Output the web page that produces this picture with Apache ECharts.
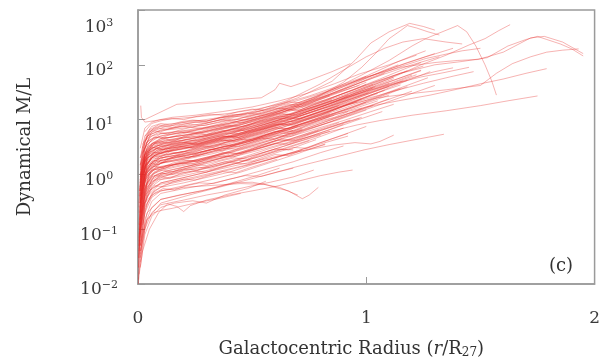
<!DOCTYPE html>
<html>
<head>
<meta charset="utf-8">
<script src="https://cdn.jsdelivr.net/npm/echarts@6/dist/echarts.min.js"></script>
<style>
  html, body { margin: 0; padding: 0; background: #fff; }
  #chart { width: 603px; height: 364px; }
</style>
</head>
<body>
<div id="chart"></div>
<script>
// axis ticks
const xTicks = [0, 1, 2];
const yTicks = [0.01, 0.1, 1, 10, 100, 1000];
const yTickLabels = ["\u22122", "\u22121", "0", "1", "2", "3"];

// rotation-curve derived M/L, one [r/R27, M/L] list per galaxy
const coreCurves = [
  [[0.01,0.12],[0.03,0.42],[0.06,0.8],[0.1,1.0],[0.18,1.2],[0.27,1.5],[0.38,2.1],[0.5,2.9],[0.62,4.4],[0.75,6.8],[0.88,10],[1.0,15]],
  [[0.01,0.3],[0.025,0.9],[0.05,1.5],[0.1,2.0],[0.2,2.4],[0.3,3.1],[0.42,4.0],[0.55,5.5],[0.68,8.5],[0.8,12],[0.92,19],[1.05,30]],
  [[0.01,0.05],[0.03,0.2],[0.06,0.38],[0.1,0.5],[0.2,0.62],[0.32,0.8],[0.45,1.1],[0.57,1.6],[0.7,2.4],[0.82,3.6]],
  [[0.005,0.4],[0.02,1.4],[0.05,2.5],[0.1,3.2],[0.2,3.8],[0.3,4.9],[0.4,6.0],[0.52,8],[0.63,11],[0.75,16],[0.86,23],[1.0,38],[1.12,60]],
  [[0.01,0.15],[0.03,0.6],[0.07,1.1],[0.12,1.4],[0.22,1.7],[0.35,2.3],[0.48,3.3],[0.6,4.6],[0.72,6.5]],
  [[0.01,0.9],[0.03,2.4],[0.07,3.5],[0.12,4.2],[0.2,4.8],[0.3,5.8],[0.42,7.6],[0.55,10],[0.66,14],[0.78,20],[0.9,30],[1.02,46],[1.15,70],[1.25,95]],
  [[0.01,0.06],[0.03,0.3],[0.06,0.55],[0.1,0.7],[0.19,0.85],[0.3,1.1],[0.41,1.5],[0.53,2.1],[0.66,3.2],[0.78,4.6],[0.9,7]],
  [[0.008,0.5],[0.025,1.3],[0.06,2.1],[0.1,2.5],[0.17,2.8],[0.28,3.6],[0.4,4.8],[0.5,6.2],[0.61,8.3],[0.72,12],[0.84,18],[0.95,27],[1.08,42],[1.2,65]],
  [[0.01,0.25],[0.03,0.9],[0.06,1.4],[0.1,1.8],[0.2,2.1],[0.31,2.8],[0.44,3.6],[0.56,5.2],[0.68,7.3],[0.8,11],[0.93,16],[1.06,26],[1.18,40]],
  [[0.01,0.03],[0.03,0.12],[0.06,0.25],[0.1,0.35],[0.18,0.42],[0.28,0.5],[0.4,0.68],[0.52,0.95],[0.62,1.3]],
  [[0.01,0.1],[0.03,0.5],[0.07,0.9],[0.11,1.1],[0.2,1.35],[0.3,1.7],[0.43,2.3],[0.55,3.2],[0.66,4.3],[0.77,6.2],[0.88,8.8]],
  [[0.01,0.35],[0.04,1.5],[0.08,2.0],[0.13,2.3],[0.23,2.8],[0.35,3.8],[0.47,5.0],[0.58,7],[0.7,10],[0.82,15],[0.95,24],[1.1,40]],
  [[0.01,0.02],[0.03,0.08],[0.06,0.17],[0.1,0.25],[0.16,0.3],[0.24,0.33],[0.3,0.3],[0.38,0.42],[0.48,0.55],[0.56,0.75]],
  [[0.01,0.7],[0.03,2.2],[0.06,3.0],[0.11,3.6],[0.2,4.2],[0.32,5.4],[0.44,7.2],[0.56,10],[0.67,13],[0.78,19],[0.9,28],[1.03,44]],
  [[0.005,0.05],[0.02,0.4],[0.05,1.1],[0.1,1.6],[0.2,1.9],[0.33,2.6],[0.46,3.7],[0.6,5.5],[0.74,8.2],[0.86,12]],
  [[0.01,0.04],[0.03,0.25],[0.07,0.5],[0.12,0.65],[0.22,0.8],[0.34,1.05],[0.46,1.4],[0.58,1.9],[0.7,2.7],[0.8,3.6],[0.92,5]],
  [[0.01,0.6],[0.03,1.8],[0.07,2.5],[0.12,2.9],[0.22,3.4],[0.34,4.3],[0.46,5.6],[0.58,8],[0.7,11.5],[0.83,17],[0.96,27],[1.1,44],[1.22,66]],
  [[0.01,0.2],[0.03,0.7],[0.06,1.0],[0.1,1.25],[0.19,1.5],[0.29,1.9],[0.4,2.5],[0.52,3.5],[0.64,5],[0.76,7.5],[0.88,11],[1.0,17],[1.1,24]],
  [[0.01,0.09],[0.03,0.4],[0.07,0.75],[0.12,0.95],[0.24,1.15],[0.36,1.5],[0.49,2.1],[0.61,3],[0.72,4.2],[0.84,6.1]],
  [[0.01,0.4],[0.03,1.2],[0.06,1.7],[0.1,2],[0.2,2.3],[0.3,2.7],[0.4,3.4],[0.5,4.4],[0.6,5.8],[0.7,8],[0.8,11],[0.9,15],[1.0,21]],
  [[0.01,0.8],[0.03,2.5],[0.06,3.7],[0.1,4.5],[0.2,5.2],[0.31,6.4],[0.43,8.2],[0.55,11],[0.66,15],[0.77,21],[0.88,31],[1.0,48]],
  [[0.01,0.07],[0.03,0.35],[0.06,0.7],[0.1,0.95],[0.2,1.15],[0.32,1.45],[0.45,2.0],[0.57,2.9],[0.7,4.2],[0.83,6.3],[0.95,9.5],[1.07,14]],
  [[0.01,0.45],[0.03,1.4],[0.07,2.2],[0.12,2.6],[0.24,3.2],[0.37,4.2],[0.5,5.8],[0.62,8],[0.75,12],[0.88,18]],
  [[0.01,0.035],[0.03,0.15],[0.06,0.32],[0.1,0.45],[0.2,0.55],[0.3,0.65],[0.42,0.85],[0.55,1.2],[0.68,1.7],[0.8,2.5],[0.9,3.3]],
  [[0.01,0.3],[0.03,0.95],[0.06,1.35],[0.1,1.6],[0.21,1.9],[0.33,2.4],[0.45,3.3],[0.58,4.7],[0.7,6.6],[0.82,9.6],[0.95,14],[1.08,22],[1.2,33]],
  [[0.01,0.6],[0.03,2],[0.06,3],[0.1,3.5],[0.2,3.9],[0.3,4.6],[0.41,5.8],[0.52,7.6],[0.64,10.5],[0.76,15],[0.88,22],[1.0,34],[1.12,52],[1.24,80]],
  [[0.01,0.08],[0.03,0.3],[0.06,0.6],[0.1,0.8],[0.2,0.95],[0.31,1.2],[0.42,1.55],[0.53,2.1],[0.64,2.9],[0.75,4.1]],
  [[0.01,0.5],[0.03,1.5],[0.06,2],[0.1,2.25],[0.2,2.6],[0.3,3.2],[0.42,4.2],[0.55,5.7],[0.67,8],[0.79,11.5],[0.9,16],[1.03,25],[1.15,38],[1.27,58]],
  [[0.01,0.025],[0.03,0.1],[0.06,0.2],[0.1,0.28],[0.2,0.34],[0.3,0.42],[0.4,0.5],[0.5,0.62],[0.58,0.72],[0.68,0.9],[0.77,1.2]],
  [[0.01,0.2],[0.03,0.8],[0.07,1.2],[0.12,1.45],[0.23,1.75],[0.35,2.3],[0.47,3.1],[0.6,4.4],[0.72,6.3],[0.84,9],[0.96,13.5],[1.08,20],[1.2,30],[1.3,42]],
  [[0.01,0.55],[0.03,1.9],[0.06,2.8],[0.1,3.2],[0.2,3.6],[0.3,4.4],[0.4,5.5],[0.5,7],[0.6,9.3],[0.7,12.5],[0.8,17],[0.9,24],[1.0,33],[1.1,46]],
  [[0.01,0.05],[0.03,0.22],[0.06,0.45],[0.1,0.58],[0.2,0.7],[0.3,0.88],[0.4,1.1],[0.5,1.5],[0.6,2.0],[0.7,2.7],[0.8,3.8],[0.9,5.3],[1.0,7.5]],
  [[0.004,0.05],[0.01,0.25],[0.02,0.7],[0.04,1.3],[0.08,1.7],[0.14,2],[0.25,2.4],[0.37,3.1],[0.49,4.1],[0.6,5.6],[0.7,7.6]],
  [[0.005,0.1],[0.012,0.45],[0.03,1.3],[0.06,2.0],[0.11,2.5],[0.2,2.9],[0.3,3.5],[0.41,4.4],[0.53,5.9],[0.65,8.1],[0.76,11],[0.86,15],[0.96,21]],
  [[0.006,0.08],[0.015,0.3],[0.035,0.9],[0.07,1.4],[0.12,1.7],[0.22,2.05],[0.34,2.6],[0.46,3.5],[0.58,4.9],[0.68,6.4]],
  [[0.005,0.2],[0.015,0.8],[0.04,1.9],[0.08,2.7],[0.14,3.1],[0.24,3.7],[0.36,4.7],[0.48,6.2],[0.6,8.6],[0.72,12],[0.84,17.5],[0.96,26],[1.08,38],[1.18,52]],
  [[0.003,0.03],[0.01,0.15],[0.025,0.5],[0.05,0.9],[0.09,1.15],[0.16,1.35],[0.26,1.65],[0.38,2.1],[0.5,2.8],[0.62,3.9],[0.74,5.5],[0.86,7.8],[0.98,11]],
  [[0.004,0.06],[0.012,0.35],[0.03,1.0],[0.06,1.6],[0.1,2.0],[0.18,2.3],[0.27,2.75],[0.37,3.4],[0.47,4.3],[0.57,5.5],[0.67,7.2],[0.77,9.6],[0.88,13.5],[1.0,20],[1.1,28]],
  [[0.005,0.3],[0.015,1.2],[0.035,2.6],[0.07,3.6],[0.12,4.1],[0.22,4.7],[0.33,5.7],[0.45,7.3],[0.57,9.7],[0.69,13.5],[0.8,19],[0.92,28]],
  [[0.004,0.04],[0.01,0.12],[0.025,0.35],[0.05,0.6],[0.09,0.8],[0.17,0.95],[0.27,1.2],[0.38,1.6],[0.5,2.2],[0.6,2.9],[0.7,3.9],[0.8,5.2]],
  [[0.006,0.15],[0.015,0.6],[0.035,1.5],[0.07,2.2],[0.12,2.6],[0.21,3.0],[0.31,3.8],[0.43,5.0],[0.55,6.8],[0.67,9.5],[0.79,13.5],[0.91,19.5],[1.03,29],[1.15,43]],
  [[0.003,0.02],[0.008,0.08],[0.02,0.3],[0.04,0.65],[0.08,1.0],[0.14,1.2],[0.23,1.45],[0.34,1.85],[0.45,2.4],[0.56,3.2],[0.66,4.2],[0.77,5.8],[0.87,7.8],[0.97,10.5]],
  [[0.005,0.12],[0.015,0.5],[0.035,1.1],[0.07,1.5],[0.13,1.75],[0.23,2.1],[0.35,2.8],[0.47,3.8],[0.59,5.3],[0.71,7.6],[0.83,11],[0.95,16],[1.05,22]],
  [[0.004,0.25],[0.012,1.0],[0.03,2.3],[0.06,3.2],[0.1,3.7],[0.19,4.2],[0.3,5.1],[0.42,6.6],[0.54,8.8],[0.66,12.2],[0.78,17.5],[0.9,25.5],[1.02,38],[1.14,56],[1.24,78]],
  [[0.005,0.07],[0.012,0.3],[0.03,0.75],[0.06,1.15],[0.1,1.35],[0.2,1.6],[0.3,2.0],[0.42,2.6],[0.54,3.5],[0.66,4.8],[0.78,6.8],[0.9,9.6],[1.02,14],[1.12,19]],
  [[0.006,0.5],[0.015,1.6],[0.035,3.3],[0.07,4.6],[0.12,5.3],[0.22,6.0],[0.34,7.3],[0.46,9.2],[0.58,12],[0.7,16.5],[0.82,23],[0.94,34],[1.06,52],[1.18,78]],
  [[0.004,0.03],[0.01,0.1],[0.025,0.28],[0.05,0.5],[0.09,0.65],[0.16,0.75],[0.25,0.9],[0.36,1.15],[0.48,1.5],[0.6,2.0],[0.72,2.7],[0.82,3.5]]
];

// noisier curves, sampled more finely
const wigglyCurves = [
  [[0.02,0.6],[0.04,1.5],[0.07,2.2],[0.1,2.1],[0.14,2.6],[0.18,2.4],[0.23,2.9],[0.28,3.3],[0.33,3.1],[0.38,3.8],[0.44,4.4],[0.5,4.2],[0.56,5.3],[0.62,6.4],[0.68,6.1],[0.74,7.8],[0.8,9.5],[0.86,11],[0.92,14]],
  [[0.015,0.4],[0.03,1.1],[0.06,1.6],[0.09,1.5],[0.13,1.9],[0.17,2.2],[0.22,2.0],[0.27,2.5],[0.32,2.9],[0.37,2.7],[0.42,3.4],[0.48,3.9],[0.54,4.6],[0.6,4.4],[0.66,5.6],[0.72,6.8]],
  [[0.02,1.2],[0.04,2.8],[0.08,3.9],[0.12,4.4],[0.16,4.1],[0.2,4.9],[0.25,5.6],[0.3,5.3],[0.35,6.4],[0.4,7.1],[0.45,6.8],[0.5,8.3],[0.56,9.6],[0.62,11.5],[0.68,11],[0.74,14],[0.8,17],[0.86,21],[0.92,26],[0.98,33],[1.04,40]],
  [[0.02,0.25],[0.04,0.7],[0.07,1.05],[0.11,1.2],[0.15,1.1],[0.2,1.35],[0.25,1.5],[0.3,1.45],[0.36,1.75],[0.42,2.0],[0.48,1.9],[0.54,2.4],[0.6,2.9],[0.66,2.8],[0.72,3.5],[0.78,4.3]],
  [[0.03,5],[0.06,7.5],[0.1,8.5],[0.14,8],[0.19,9.2],[0.24,9.8],[0.3,9.4],[0.36,10.8],[0.42,11.5],[0.48,13],[0.54,12.5],[0.6,15],[0.66,18],[0.72,17],[0.78,22],[0.84,27]],
  [[0.03,6],[0.06,8.5],[0.1,9.5],[0.15,10.5],[0.2,10],[0.26,11.5],[0.32,12.5],[0.38,12],[0.44,14],[0.5,15.5],[0.55,15]],
  [[0.02,3],[0.05,6],[0.09,7],[0.13,6.6],[0.18,7.4],[0.23,8.2],[0.29,7.8],[0.35,9],[0.41,10.2],[0.47,9.8],[0.53,11.5],[0.59,13],[0.65,15.5],[0.71,15],[0.77,19],[0.83,23],[0.89,29],[0.95,36],[1.0,44]],
  [[0.015,0.9],[0.03,2.2],[0.06,3.1],[0.1,3.0],[0.14,3.5],[0.19,3.9],[0.24,3.7],[0.3,4.4],[0.36,5.0],[0.42,4.8],[0.48,5.9],[0.54,6.8],[0.6,8.2],[0.66,7.9],[0.72,9.8],[0.78,12],[0.84,14.5],[0.9,18],[0.96,22],[1.02,28],[1.08,34]],
  [[0.02,0.35],[0.05,1.0],[0.08,1.35],[0.12,1.3],[0.17,1.6],[0.22,1.8],[0.27,1.7],[0.33,2.1],[0.39,2.5],[0.45,2.4],[0.51,3.0],[0.57,3.6],[0.63,4.4],[0.69,4.2],[0.75,5.3],[0.81,6.5],[0.87,8],[0.93,9.8]],
  [[0.01,0.15],[0.03,0.45],[0.06,0.75],[0.1,0.9],[0.14,0.85],[0.19,1.05],[0.24,1.15],[0.3,1.1],[0.36,1.35],[0.42,1.6],[0.48,1.55],[0.54,1.9],[0.6,2.3],[0.66,2.2],[0.72,2.8]],
  [[0.02,1.8],[0.05,3.8],[0.09,4.8],[0.13,4.6],[0.18,5.3],[0.23,6],[0.28,5.8],[0.34,6.8],[0.4,7.8],[0.46,7.5],[0.52,9],[0.58,10.5],[0.64,12.5],[0.7,12],[0.76,15],[0.82,18.5],[0.88,23],[0.94,29],[1.0,36],[1.06,45],[1.12,56]],
  [[0.02,0.8],[0.04,1.9],[0.07,2.5],[0.11,2.4],[0.15,2.8],[0.2,3.2],[0.25,3.0],[0.31,3.6],[0.37,4.2],[0.43,4.0],[0.49,4.9],[0.55,5.8],[0.61,7.0],[0.67,6.7],[0.73,8.4],[0.79,10.2],[0.85,12.5],[0.91,15.5],[0.97,19],[1.03,24],[1.09,30],[1.15,37]],
  [[0.02,2.4],[0.05,4.8],[0.09,5.8],[0.13,5.5],[0.18,6.4],[0.23,7.2],[0.28,6.9],[0.34,8],[0.4,9.2],[0.46,8.8],[0.52,10.5],[0.58,12.5],[0.64,15],[0.7,14.5],[0.76,18],[0.82,22],[0.88,28],[0.94,35],[1.0,44],[1.06,55],[1.12,70],[1.18,88],[1.24,110]],
  [[0.02,0.5],[0.04,1.2],[0.07,1.8],[0.11,1.75],[0.16,2.1],[0.21,2.4],[0.26,2.3],[0.32,2.8],[0.38,3.3],[0.44,3.2],[0.5,3.9],[0.56,4.7],[0.62,5.7],[0.68,5.5],[0.74,6.9],[0.8,8.5],[0.86,10.5],[0.92,13],[0.98,16]],
  [[0.03,4],[0.06,6.5],[0.1,7.5],[0.15,7.2],[0.2,8.2],[0.25,9],[0.3,8.6],[0.36,10],[0.42,11.5],[0.48,11],[0.54,13],[0.6,15.5],[0.66,19],[0.72,18.5],[0.78,23],[0.84,29],[0.9,37],[0.96,48],[1.02,62],[1.08,80],[1.14,100]],
  [[0.02,1.5],[0.05,3.2],[0.09,4.0],[0.13,3.8],[0.18,4.4],[0.23,5],[0.29,4.8],[0.35,5.7],[0.41,6.6],[0.47,6.3],[0.53,7.6],[0.59,9],[0.65,10.8],[0.71,10.4],[0.77,13],[0.83,16],[0.89,20],[0.95,25],[1.01,31]],
  [[0.015,0.2],[0.03,0.55],[0.06,0.9],[0.1,1.05],[0.15,1.0],[0.2,1.2],[0.26,1.35],[0.32,1.3],[0.38,1.55],[0.44,1.8],[0.5,1.75],[0.56,2.15],[0.62,2.6],[0.68,3.1],[0.74,3.0],[0.8,3.8],[0.86,4.6],[0.92,5.6]],
  [[0.02,0.12],[0.04,0.3],[0.07,0.45],[0.11,0.55],[0.16,0.52],[0.21,0.62],[0.27,0.7],[0.33,0.68],[0.4,0.82],[0.47,0.95],[0.54,0.92],[0.61,1.1],[0.68,1.3]],
  [[0.02,3.5],[0.05,6.5],[0.09,8],[0.14,7.6],[0.19,8.8],[0.24,9.6],[0.3,9.2],[0.36,11],[0.42,12.5],[0.48,12],[0.54,14.5],[0.6,17],[0.66,21],[0.72,20],[0.78,25],[0.84,31],[0.9,40],[0.96,52],[1.02,68],[1.08,88],[1.14,115],[1.2,145],[1.26,180]],
  [[0.02,1.0],[0.05,2.3],[0.08,2.9],[0.12,2.8],[0.16,3.3],[0.21,3.7],[0.26,3.5],[0.32,4.2],[0.38,4.9],[0.44,4.7],[0.5,5.7],[0.56,6.8],[0.62,8.2],[0.68,7.9],[0.74,9.9],[0.8,12],[0.86,15],[0.92,19],[0.98,24],[1.04,30],[1.1,38],[1.16,48],[1.22,60],[1.28,75]]
];

// extra curves filling the dense inner band
const denseCurves = [
  [[0.01,0.3],[0.02,0.9],[0.04,1.6],[0.07,2.0],[0.1,1.9],[0.14,2.3],[0.19,2.6],[0.24,2.5],[0.3,3.0],[0.36,3.5],[0.42,3.4],[0.48,4.2],[0.54,5.0],[0.6,6.1],[0.66,5.9],[0.72,7.4],[0.78,9.2],[0.84,11.5]],
  [[0.01,0.5],[0.02,1.4],[0.05,2.4],[0.08,3.0],[0.11,2.9],[0.16,3.4],[0.21,3.8],[0.26,3.6],[0.32,4.3],[0.38,5.0],[0.44,4.8],[0.5,5.9],[0.56,7.0],[0.62,8.5],[0.68,8.2],[0.74,10.2],[0.8,12.5],[0.86,15.5],[0.92,19.5],[0.98,24]],
  [[0.01,0.2],[0.02,0.6],[0.04,1.1],[0.07,1.4],[0.11,1.35],[0.15,1.6],[0.2,1.8],[0.26,1.75],[0.32,2.1],[0.37,2.5],[0.43,2.4],[0.49,2.9],[0.55,3.5],[0.61,4.2],[0.67,4.1],[0.73,5.1],[0.79,6.3]],
  [[0.01,0.7],[0.02,1.8],[0.04,3.0],[0.07,3.8],[0.1,3.7],[0.15,4.3],[0.2,4.8],[0.25,4.6],[0.31,5.4],[0.37,6.3],[0.43,6.1],[0.49,7.4],[0.55,8.8],[0.61,10.6],[0.67,10.2],[0.73,12.6],[0.79,15.5],[0.85,19],[0.91,24],[0.97,30],[1.03,38]],
  [[0.01,0.12],[0.02,0.35],[0.04,0.7],[0.07,0.95],[0.12,0.92],[0.16,1.1],[0.21,1.25],[0.26,1.2],[0.32,1.45],[0.38,1.7],[0.44,1.65],[0.5,2.0],[0.56,2.4],[0.62,2.9],[0.68,2.8]],
  [[0.01,1.0],[0.02,2.4],[0.04,3.8],[0.07,4.8],[0.1,4.6],[0.14,5.3],[0.19,5.9],[0.25,5.7],[0.31,6.7],[0.37,7.7],[0.43,7.5],[0.49,9.0],[0.55,10.7],[0.61,12.8],[0.67,12.4],[0.73,15.2],[0.79,18.7],[0.85,23]],
  [[0.01,0.25],[0.02,0.75],[0.05,1.35],[0.08,1.7],[0.11,1.65],[0.15,1.95],[0.2,2.2],[0.25,2.1],[0.31,2.55],[0.37,3.0],[0.43,2.9],[0.49,3.55],[0.55,4.25],[0.61,5.1],[0.67,4.95],[0.73,6.2],[0.79,7.6],[0.85,9.4],[0.91,11.7],[0.97,14.6],[1.03,18]],
  [[0.01,0.4],[0.02,1.1],[0.04,2.0],[0.07,2.5],[0.1,2.45],[0.14,2.85],[0.19,3.2],[0.24,3.05],[0.3,3.65],[0.36,4.25],[0.42,4.1],[0.48,5.0],[0.54,5.9],[0.6,7.1],[0.66,6.9],[0.72,8.6],[0.78,10.5],[0.84,13]],
  [[0.01,0.08],[0.02,0.22],[0.04,0.45],[0.07,0.62],[0.11,0.6],[0.15,0.72],[0.2,0.82],[0.25,0.79],[0.31,0.95],[0.37,1.12],[0.43,1.08],[0.49,1.32],[0.55,1.58],[0.61,1.9]],
  [[0.01,1.4],[0.02,3.2],[0.04,5.0],[0.07,6.2],[0.1,6.0],[0.14,6.9],[0.19,7.6],[0.24,7.3],[0.3,8.6],[0.36,9.9],[0.42,9.6],[0.48,11.5],[0.54,13.6],[0.6,16.2],[0.66,15.7],[0.72,19.3],[0.78,23.7],[0.84,29],[0.9,36],[0.96,45],[1.02,56],[1.08,70]],
  [[0.01,0.6],[0.02,1.6],[0.05,2.7],[0.08,3.4],[0.11,3.3],[0.16,3.8],[0.21,4.3],[0.26,4.1],[0.32,4.9],[0.38,5.7],[0.44,5.5],[0.5,6.6],[0.56,7.9],[0.62,9.5],[0.68,9.2],[0.74,11.3],[0.8,13.9],[0.86,17],[0.92,21],[0.98,26.5],[1.04,33],[1.1,41],[1.16,51]],
  [[0.01,0.18],[0.02,0.5],[0.04,0.95],[0.07,1.25],[0.1,1.22],[0.14,1.43],[0.19,1.6],[0.24,1.55],[0.3,1.85],[0.36,2.15],[0.42,2.1],[0.48,2.55],[0.54,3.05],[0.6,3.65],[0.66,3.55],[0.72,4.4],[0.78,5.4],[0.84,6.6],[0.9,8.2]]
];

const upperCurves = [
  [[0.01,1.5],[0.03,4],[0.06,5.5],[0.1,6.3],[0.2,7],[0.3,8],[0.42,10],[0.54,13],[0.66,18],[0.78,26],[0.9,40],[1.02,62],[1.14,95],[1.26,140],[1.38,200]],
  [[0.01,2],[0.03,5],[0.07,7],[0.12,8.2],[0.22,9],[0.33,10.5],[0.45,12.5],[0.56,15],[0.68,21],[0.8,30],[0.92,45],[1.05,70],[1.18,110],[1.3,160]],
  [[0.01,3],[0.03,7],[0.06,9],[0.1,10],[0.18,10.5],[0.28,11.5],[0.4,13],[0.52,15.5],[0.64,20],[0.75,27],[0.87,40],[1.0,62]],
  [[0.03,10],[0.07,12],[0.17,19],[0.3,21],[0.42,23],[0.54,25],[0.6,35],[0.62,46],[0.67,40],[0.75,52],[0.85,75],[0.93,105]],
  [[0.012,18],[0.015,11],[0.03,9],[0.07,9.5],[0.15,11],[0.25,12],[0.37,14],[0.5,17],[0.62,22],[0.74,30],[0.86,45],[0.97,68],[1.1,100],[1.22,150]],
  [[0.01,1.0],[0.03,3],[0.06,4.3],[0.1,5],[0.18,5.6],[0.28,6.8],[0.4,8.5],[0.5,11],[0.6,14],[0.72,20],[0.84,29],[0.96,45],[1.08,68],[1.2,100],[1.32,140]],
  [[0.01,1.3],[0.03,3.5],[0.06,5],[0.1,5.6],[0.2,6.3],[0.3,7.3],[0.4,8.7],[0.5,10.5],[0.61,14],[0.72,19],[0.84,28],[0.97,42]],
  [[0.02,2.5],[0.06,6],[0.12,7.5],[0.3,9.5],[0.5,14],[0.65,22],[0.8,45],[0.9,80],[1.0,140],[1.08,200],[1.16,260],[1.25,300],[1.35,260],[1.42,240]]
];

const longCurves = [
  [[0.01,0.9],[0.04,2.6],[0.1,3.6],[0.22,4.3],[0.35,5.6],[0.5,8.5],[0.64,14],[0.78,25],[0.9,48],[0.98,90],[1.04,160],[1.1,300],[1.15,420],[1.18,520],[1.22,470],[1.27,400],[1.32,350]],
  [[0.01,1.2],[0.04,3.2],[0.1,4.5],[0.25,5.5],[0.4,7.5],[0.55,11],[0.7,19],[0.85,35],[0.98,65],[1.1,120],[1.2,220],[1.26,300],[1.32,380],[1.4,520],[1.44,400],[1.48,220],[1.52,100],[1.55,50],[1.57,28]],
  [[0.01,0.5],[0.04,1.8],[0.1,2.6],[0.25,3.4],[0.4,5],[0.55,7.5],[0.7,12],[0.85,20],[1.0,38],[1.12,60],[1.24,100],[1.35,150],[1.45,230],[1.52,300],[1.58,420],[1.63,540]],
  [[0.01,0.7],[0.04,2.2],[0.1,3],[0.25,3.8],[0.4,5.5],[0.55,8],[0.7,13],[0.85,22],[1.0,40],[1.15,70],[1.3,100],[1.42,115],[1.53,135],[1.62,220],[1.7,290],[1.75,330],[1.79,290],[1.85,240],[1.9,195],[1.95,145]],
  [[0.02,1.0],[0.06,2.2],[0.12,2.9],[0.3,3.8],[0.5,6],[0.7,10],[0.9,18],[1.05,25],[1.2,30],[1.35,35],[1.5,42],[1.57,70],[1.64,105],[1.72,140],[1.79,170],[1.86,185],[1.93,195]],
  [[0.01,1.5],[0.04,4],[0.1,5.5],[0.25,6.5],[0.4,8.5],[0.55,12],[0.7,20],[0.85,35],[1.0,60],[1.15,90],[1.3,110],[1.4,120],[1.49,125],[1.6,170],[1.72,310],[1.78,330],[1.86,260],[1.95,160]],
  [[0.01,0.3],[0.04,1.1],[0.1,1.8],[0.25,2.4],[0.4,3.4],[0.55,5],[0.7,8],[0.85,12],[1.0,17],[1.14,22],[1.28,28],[1.4,36],[1.5,45],[1.6,55],[1.7,70],[1.79,85]],
  [[0.01,0.15],[0.04,0.6],[0.1,1.0],[0.25,1.4],[0.4,2.0],[0.55,2.9],[0.7,4.3],[0.85,6.2],[0.96,8],[1.06,9.6],[1.2,12],[1.35,14.5],[1.5,18],[1.62,22],[1.75,27]],
  [[0.01,0.04],[0.04,0.15],[0.1,0.3],[0.25,0.45],[0.4,0.65],[0.55,0.95],[0.7,1.4],[0.85,2.0],[0.99,2.8],[1.1,3.5],[1.2,4.2],[1.34,5.4]],
  [[0.01,0.1],[0.04,0.4],[0.1,0.7],[0.3,1.1],[0.5,1.7],[0.7,2.6],[0.85,3.4],[0.95,3.8],[1.02,3.6],[1.06,4.0],[1.12,5.2]],
  [[0.01,2],[0.04,5],[0.1,6.5],[0.25,8],[0.4,10.5],[0.55,15],[0.7,25],[0.85,50],[0.95,120],[1.02,250],[1.1,400],[1.19,570],[1.25,500],[1.3,430]],
  [[0.01,0.8],[0.04,2.4],[0.1,3.3],[0.25,4.1],[0.4,5.8],[0.55,8.5],[0.7,13],[0.85,21],[1.0,33],[1.12,45],[1.24,60],[1.34,72],[1.45,90]],
  [[0.01,0.4],[0.04,1.4],[0.1,2.2],[0.25,2.8],[0.4,4],[0.55,6],[0.7,9.5],[0.85,15],[1.0,24],[1.12,33],[1.25,46],[1.38,62],[1.47,75]],
  [[0.02,1.3],[0.06,3.6],[0.12,4.6],[0.28,5.8],[0.44,8],[0.6,12],[0.75,20],[0.9,35],[1.02,58],[1.14,90],[1.26,130],[1.36,160],[1.42,180],[1.5,200]],
  [[0.01,0.6],[0.04,2],[0.1,2.8],[0.25,3.6],[0.4,5],[0.55,7.2],[0.7,11],[0.85,18],[1.0,30],[1.1,42],[1.2,58],[1.3,75],[1.38,88]]
];

const lowCurves = [
  [[0.01,0.05],[0.04,0.2],[0.1,0.35],[0.22,0.45],[0.32,0.55],[0.42,0.7],[0.5,0.72],[0.56,0.65],[0.62,0.55],[0.66,0.5],[0.7,0.4],[0.72,0.36],[0.75,0.42],[0.79,0.58]],
  [[0.005,0.015],[0.02,0.04],[0.05,0.1],[0.09,0.2],[0.13,0.29],[0.17,0.26],[0.2,0.21],[0.23,0.27],[0.3,0.34],[0.4,0.42],[0.5,0.5],[0.6,0.6],[0.7,0.75],[0.8,0.95],[0.88,1.1],[0.94,1.2]],
  [[0.003,0.012],[0.01,0.03],[0.02,0.08],[0.04,0.15],[0.07,0.2],[0.1,0.22],[0.15,0.24],[0.25,0.3],[0.35,0.36],[0.45,0.45]],
  [[0.003,0.02],[0.008,0.06],[0.015,0.15],[0.03,0.3],[0.06,0.42],[0.1,0.5],[0.2,0.58],[0.3,0.62],[0.45,0.68],[0.55,0.66],[0.62,0.58],[0.67,0.47],[0.7,0.42]],
  [[0.002,0.01],[0.006,0.05],[0.012,0.2],[0.02,0.5],[0.035,0.9],[0.06,1.2],[0.1,1.4],[0.2,1.6],[0.3,1.9],[0.4,2.3]]
];

const FONT = "'DejaVu Serif', 'Liberation Serif', serif";
const allCurves = [].concat(coreCurves, wigglyCurves, denseCurves, upperCurves, longCurves, lowCurves);

const chart = echarts.init(document.getElementById("chart"));

const option = {
  animation: false,
  grid: {
    left: 138, right: 8, top: 10, bottom: 74,
    show: true, borderColor: "#9a9a9a", borderWidth: 1.5
  },
  xAxis: {
    type: "value",
    min: xTicks[0], max: xTicks[xTicks.length - 1], interval: 1,
    axisLine: { lineStyle: { color: "#9a9a9a", width: 1.5 } },
    axisTick: { inside: true, length: 7, lineStyle: { color: "#9a9a9a" } },
    splitLine: { show: false },
    axisLabel: { margin: 26, fontSize: 17, color: "#3a3a3a", fontFamily: FONT },
    name: "Galactocentric Radius ({i|r}/R{sub|27})",
    nameLocation: "middle",
    nameGap: 55,
    nameTextStyle: {
      fontSize: 18, color: "#333", fontFamily: FONT, padding: [0, 30, 0, 0],
      rich: {
        i: { fontSize: 18, fontStyle: "italic", fontFamily: FONT, color: "#333" },
        sub: { fontSize: 12, fontFamily: FONT, color: "#333", padding: [8, 0, 0, 0] }
      }
    }
  },
  yAxis: {
    type: "log", logBase: 10,
    min: yTicks[0], max: yTicks[yTicks.length - 1], splitNumber: 5,
    axisLine: { show: true, lineStyle: { color: "#9a9a9a", width: 1.5 } },
    axisTick: { show: true, inside: true, length: 7, lineStyle: { color: "#9a9a9a" } },
    minorTick: { show: false },
    splitLine: { show: false },
    axisLabel: {
      margin: 39, align: "center", padding: [12, 0, 0, 0],
      formatter: function (v) {
        const i = yTicks.findIndex(t => Math.abs(t - v) / t < 1e-6);
        if (i < 0) return "";
        if (i === yTicks.length - 1) return "{bt|10}{st|" + yTickLabels[i] + "}";
        return "{b|10}{s|" + yTickLabels[i] + "}";
      },
      rich: {
        b: { fontSize: 17, color: "#3a3a3a", fontFamily: FONT },
        s: { fontSize: 11, color: "#3a3a3a", fontFamily: FONT, padding: [0, 0, 9, 0] },
        bt: { fontSize: 17, color: "#3a3a3a", fontFamily: FONT, padding: [24, 0, 0, 0] },
        st: { fontSize: 11, color: "#3a3a3a", fontFamily: FONT, padding: [14, 0, 0, 0] }
      }
    },
    name: "Dynamical M/L",
    nameLocation: "middle",
    nameGap: 104,
    nameTextStyle: { fontSize: 18, color: "#333", fontFamily: FONT }
  },
  graphic: [{
    type: "text", left: 549, top: 257,
    style: { text: "(c)", font: "18px " + FONT, fill: "#333" }
  }],
  series: allCurves.map(c => ({
    type: "line",
    data: c,
    showSymbol: false,
    symbol: "none",
    silent: true,
    lineStyle: { color: "rgba(230,42,38,0.45)", width: 0.8 }
  }))
};

chart.setOption(option);
</script>
</body>
</html>
